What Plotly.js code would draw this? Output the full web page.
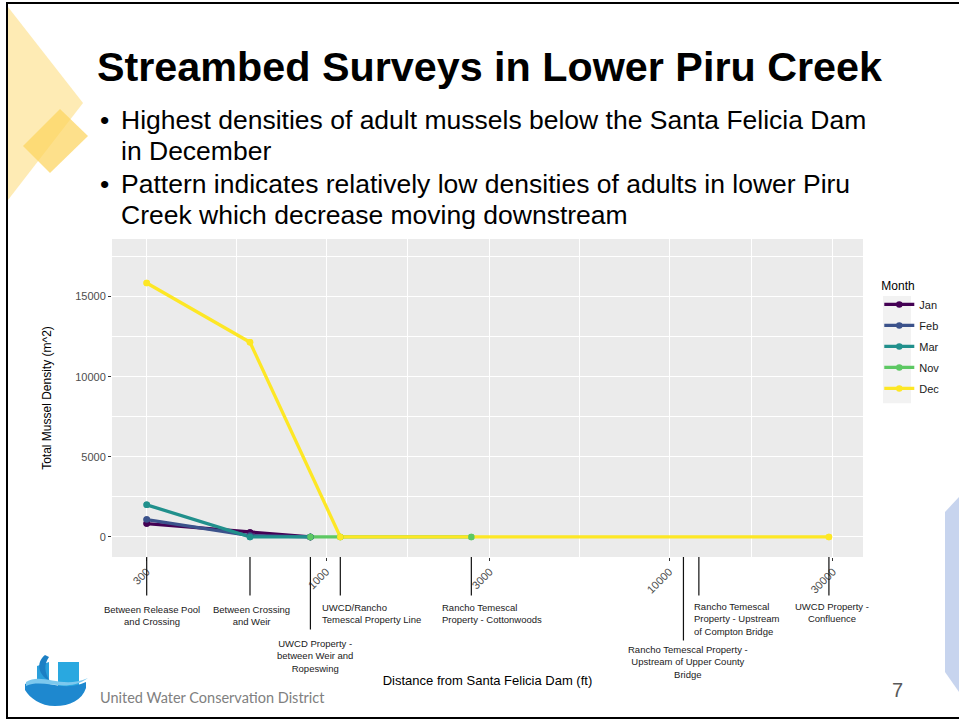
<!DOCTYPE html>
<html>
<head>
<meta charset="utf-8">
<script src="https://cdn.plot.ly/plotly-3.0.1.min.js"></script>
<style>
  html, body { margin:0; padding:0; background:#ffffff; }
  #wrap { position:relative; width:959px; height:721px; overflow:hidden; }
  #deco { position:absolute; left:0; top:0; }
  #chart { position:absolute; left:0; top:0; width:959px; height:721px; }
</style>
</head>
<body>
<div id="wrap">
<svg id="deco" width="959" height="721" xmlns="http://www.w3.org/2000/svg">
  <polygon points="8,7 83,103 8,200" fill="#FEEBB4"/>
  <polygon points="60,109 88,136 50,173 23,146" fill="#FCD45E" fill-opacity="0.72"/>
  <polygon points="945,512 959,497 959,692 945,672" fill="#C7D4EE"/>
  <text x="97" y="81" font-family="Liberation Sans, Arial, sans-serif" font-weight="bold" font-size="41.3" fill="#000">Streambed Surveys in Lower Piru Creek</text>
  <g font-family="Liberation Sans, Arial, sans-serif" font-size="26.5" fill="#000">
    <text x="100" y="129">•</text>
    <text x="121" y="129">Highest densities of adult mussels below the Santa Felicia Dam</text>
    <text x="121" y="160">in December</text>
    <text x="100" y="193">•</text>
    <text x="121" y="193">Pattern indicates relatively low densities of adults in lower Piru</text>
    <text x="121" y="224">Creek which decrease moving downstream</text>
  </g>
  <g>
    <path d="M37,666 L49,662 L49,690 L37,690 Z" fill="#2A9FDB"/>
    <path d="M58,662 L79,662 L79,690 L58,690 Z" fill="#29A8E0"/>
    <path d="M45,655 C35,663 39,676 50,681 C44,672 44,664 49,657 Z" fill="#1C7FC4"/>
    <path d="M25,684 C40,676 60,694 86,682 L86,688 C82,700 70,706 55,706 C40,706 30,698 25,690 Z" fill="#1E88CF"/>
    <path d="M26,682 C42,672 62,690 88,678 C66,694 44,678 26,686 Z" fill="#7CC8EE"/>
  </g>
  <text x="100" y="703" font-family="Lato, Open Sans, sans-serif" font-size="14.5" fill="#808080">United Water Conservation District</text>
  <text x="892" y="697" font-family="Liberation Sans, Arial, sans-serif" font-size="20" fill="#595959">7</text>
  <rect x="7" y="3" width="960" height="715" fill="none" stroke="#000" stroke-width="2"/>
</svg>
<div id="chart"></div>
</div>
<script>
// ---- data ----
var months = ["Jan", "Feb", "Mar", "Nov", "Dec"];
var monthColors = ["#440154", "#3B528B", "#21908C", "#5DC863", "#FDE725"];

var janDist = [300, 600, 900];
var janDensity = [830, 280, 0];

var febDist = [300, 600, 900];
var febDensity = [1080, 80, 0];

var marDist = [300, 600, 900];
var marDensity = [2000, 0, 0];

var novDist = [900, 1100, 2650];
var novDensity = [0, 0, 0];

var decDist = [300, 600, 1100, 29200];
var decDensity = [15850, 12150, 0, 0];

var xTickVals = [300, 1000, 3000, 10000, 30000];
var xTickText = ["300", "1000", "3000", "10000", "30000"];
var yTickVals = [0, 5000, 10000, 15000];
var yTickText = ["0", "5000", "10000", "15000"];

var siteDist = [300, 600, 900, 1100, 2650, 11000, 12200, 29200];
var siteNames = [
  "Between Release Pool<br>and Crossing",
  "Between Crossing<br>and Weir",
  "UWCD Property -<br>between Weir and<br>Ropeswing",
  "UWCD/Rancho<br>Temescal Property Line",
  "Rancho Temescal<br>Property - Cottonwoods",
  "Rancho Temescal Property -<br>Upstream of Upper County<br>Bridge",
  "Rancho Temescal<br>Property - Upstream<br>of Compton Bridge",
  "UWCD Property -<br>Confluence"
];

// ---- label placement (layout only) ----
var siteLineLen = [40, 40, 74, 40, 40, 85, 40, 40];
var siteLabelDrop = [45, 45, 79, 42.5, 42.5, 85, 41.5, 41.5];
var siteLabelAlign = ["center", "center", "center", "left", "left", "center", "left", "center"];
var siteLabelShift = [5, 1.5, 4.7, -20.4, -31, 4.7, -6.7, 3];

var seriesDist = [janDist, febDist, marDist, novDist, decDist];
var seriesDensity = [janDensity, febDensity, marDensity, novDensity, decDensity];

var traces = [];
months.forEach(function (m, i) {
  traces.push({
    type: "scatter", mode: "lines+markers", name: m,
    x: seriesDist[i], y: seriesDensity[i],
    legendgroup: m,
    line: { color: monthColors[i], width: 3.3 },
    marker: { color: monthColors[i], size: 6.5 },
    hoverinfo: "x+y+name"
  });
});
months.forEach(function (m, i) {
  traces.push({
    type: "scatter", mode: "markers", name: m, showlegend: false,
    x: seriesDist[i], y: seriesDensity[i],
    legendgroup: m,
    marker: { color: monthColors[i], size: 6.5 },
    hoverinfo: "skip"
  });
});

function geoMids(v) {
  var out = [];
  for (var i = 0; i < v.length - 1; i++) out.push(Math.sqrt(v[i] * v[i + 1]));
  return out;
}
function arithMids(v) {
  var out = [];
  for (var i = 0; i < v.length - 1; i++) out.push((v[i] + v[i + 1]) / 2);
  out.push(v[v.length - 1] + (v[1] - v[0]) / 2);
  return out;
}

var annotations = [];
siteDist.forEach(function (d, i) {
  annotations.push({
    xref: "x", yref: "paper", x: Math.log10(d), y: 0,
    text: "", showarrow: true, arrowhead: 0, arrowwidth: 1.2, arrowcolor: "#111",
    ax: 0, ay: siteLineLen[i], standoff: 0, startstandoff: 0
  });
  annotations.push({
    xref: "x", yref: "paper", x: Math.log10(d), y: 0,
    text: siteNames[i], showarrow: false,
    xanchor: siteLabelAlign[i] === "left" ? "left" : "center",
    yanchor: "top", align: siteLabelAlign[i],
    xshift: siteLabelShift[i], yshift: -siteLabelDrop[i],
    font: { family: "Liberation Sans, Arial, sans-serif", size: 9.5, color: "#1a1a1a" }
  });
});

var layout = {
  width: 959, height: 721,
  margin: { l: 112, r: 96, t: 239, b: 164, pad: 0 },
  paper_bgcolor: "rgba(0,0,0,0)",
  plot_bgcolor: "#EBEBEB",
  font: { family: "Liberation Sans, Arial, sans-serif", color: "#000" },
  showlegend: true,
  xaxis: {
    type: "log", range: [2.376, 4.5647],
    tickmode: "array", tickvals: xTickVals, ticktext: xTickText,
    tickangle: -45, ticks: "outside", ticklen: 3, tickwidth: 1, tickcolor: "#333",
    tickfont: { size: 11, color: "#4d4d4d" },
    showgrid: true, gridcolor: "#ffffff", gridwidth: 1.1,
    minor: { tickmode: "array", tickvals: geoMids(xTickVals), showgrid: true, gridcolor: "#ffffff", gridwidth: 0.55, ticks: "" },
    zeroline: false, showline: false, automargin: false,
    title: { text: "Distance from Santa Felicia Dam (ft)", font: { size: 13, color: "#000" }, standoff: 81 }
  },
  yaxis: {
    range: [-1256, 18594],
    tickmode: "array", tickvals: yTickVals, ticktext: yTickText,
    ticks: "outside", ticklen: 3, tickwidth: 1, tickcolor: "#333",
    tickfont: { size: 11, color: "#4d4d4d" },
    showgrid: true, gridcolor: "#ffffff", gridwidth: 1.1,
    minor: { tickmode: "array", tickvals: arithMids(yTickVals), showgrid: true, gridcolor: "#ffffff", gridwidth: 0.55, ticks: "" },
    zeroline: false, showline: false, automargin: false,
    title: { text: "Total Mussel Density (m^2)", font: { size: 12, color: "#000" }, standoff: 21 }
  },
  legend: {
    x: 1.0217, xanchor: "left", y: 0.889, yanchor: "top",
    bgcolor: "rgba(0,0,0,0)", borderwidth: 0,
    title: { text: "Month", font: { size: 12, color: "#000" } },
    font: { size: 11, color: "#1a1a1a" },
    itemwidth: 30, tracegroupgap: 2, traceorder: "grouped"
  },
  shapes: [{
    type: "rect", xref: "paper", yref: "paper", layer: "below",
    x0: (883 - 112) / 751, x1: (911 - 112) / 751,
    y0: (556.7 - 403) / 317.7, y1: (556.7 - 296) / 317.7,
    fillcolor: "#F2F2F2", line: { width: 0 }
  }],
  annotations: annotations
};

Plotly.newPlot("chart", traces, layout, { displayModeBar: false, responsive: false });
</script>
</body>
</html>
